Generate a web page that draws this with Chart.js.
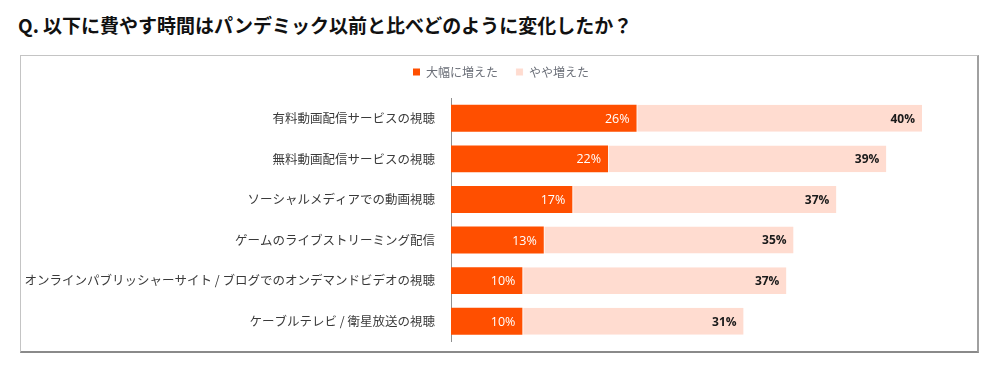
<!DOCTYPE html>
<html lang="ja">
<head>
<meta charset="utf-8">
<script src="https://cdn.jsdelivr.net/npm/chart.js@4"></script>
<style>
    body { margin: 0; background: #fff; width: 1000px; height: 375px; overflow: hidden; position: relative; }
    #title {
        position: absolute; left: 18px; top: 11px;
        font-family: "Noto Sans CJK JP", sans-serif; font-weight: bold; font-size: 19px;
        color: #111; white-space: nowrap; letter-spacing: 0;
    }
    #frame {
        position: absolute; left: 20px; top: 55px; width: 959px; height: 298px;
        box-sizing: border-box; border: 1px solid #c4c4c4; border-bottom: 2px solid #8a8a8a; border-right: 2px solid #a0a0a0;
    }
    /* a bit taller than the frame: the y labels keep some room below the plot */
    #chart-wrap { position: relative; width: 956px; height: 301px; }
</style>
</head>
<body>
<div id="title">Q. 以下に費やす時間はパンデミック以前と比べどのように変化したか？</div>
<div id="frame">
    <div id="chart-wrap"><canvas id="time-chart"></canvas></div>
</div>
<script>
const categories = [
    '有料動画配信サービスの視聴',
    '無料動画配信サービスの視聴',
    'ソーシャルメディアでの動画視聴',
    'ゲームのライブストリーミング配信',
    'オンラインパブリッシャーサイト / ブログでのオンデマンドビデオの視聴',
    'ケーブルテレビ / 衛星放送の視聴'
];
const seriesNames = ['大幅に増えた', 'やや増えた'];
const greatlyIncreased = [26, 22, 17, 13, 10, 10];
const slightlyIncreased = [40, 39, 37, 35, 37, 31];

const jpFont = '"Noto Sans CJK JP", sans-serif';

// draws the % labels at the right end of every bar
const valueLabels = {
    id: 'valueLabels',
    afterDatasetsDraw(chart) {
        const ctx = chart.ctx;
        ctx.save();
        ctx.textAlign = 'right';
        ctx.textBaseline = 'middle';
        chart.data.datasets.forEach((ds, i) => {
            const meta = chart.getDatasetMeta(i);
            meta.data.forEach((bar, j) => {
                if (i === 0) {
                    ctx.fillStyle = '#ffffff';
                    ctx.font = '12.5px "Open Sans", sans-serif';
                } else {
                    ctx.fillStyle = '#1a1a1a';
                    ctx.font = 'bold 12px "Open Sans", sans-serif';
                }
                ctx.fillText(ds.data[j] + '%', bar.x - 7, bar.y + 1);
            });
        });
        ctx.restore();
    }
};

// pull the legend up a little and re-center it (the item padding leaves a trailing gap)
const legendShift = {
    id: 'legendShift',
    afterLayout(chart) {
        chart.legend.top -= 10;
        chart.legend.bottom -= 10;
        chart.legend.left += 17;
        chart.legend.right += 17;
    }
};

new Chart(document.getElementById('time-chart'), {
    type: 'bar',
    data: {
        labels: categories,
        datasets: [
            {
                label: seriesNames[0],
                data: greatlyIncreased,
                backgroundColor: '#ff4f00',
                barPercentage: 0.8,
                categoryPercentage: 0.83
            },
            {
                label: seriesNames[1],
                data: slightlyIncreased,
                backgroundColor: '#ffdcd0',
                borderColor: '#fff0ea',
                borderWidth: {left: 1},
                borderSkipped: false,
                barPercentage: 0.8,
                categoryPercentage: 0.83
            }
        ]
    },
    options: {
        indexAxis: 'y',
        responsive: true,
        maintainAspectRatio: false,
        animation: false,
        layout: {
            padding: {top: 2, right: 30, bottom: 0, left: 0}
        },
        plugins: {
            legend: {
                position: 'top',
                labels: {
                    boxWidth: 7,
                    boxHeight: 7,
                    padding: 18,
                    color: '#6b6f78',
                    font: {family: jpFont, size: 12}
                }
            },
            tooltip: {enabled: false}
        },
        scales: {
            x: {
                stacked: true,
                display: false,
                min: 0,
                max: 69.5
            },
            y: {
                stacked: true,
                grid: {display: false},
                border: {display: true, color: '#8f8f8f', width: 1},
                afterFit: (scale) => { scale.width = 430; },
                ticks: {
                    color: '#3a3a3a',
                    padding: 8,
                    font: {family: jpFont, size: 12.5}
                }
            }
        }
    },
    plugins: [valueLabels, legendShift]
});
</script>
</body>
</html>
